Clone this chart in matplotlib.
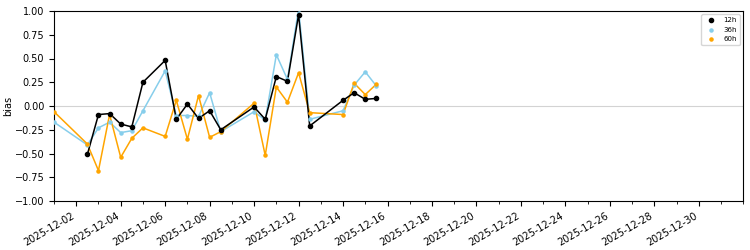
import datetime
import numpy as np
import pandas as pd
import matplotlib
matplotlib.use('Agg')
import matplotlib.pyplot as plt
import matplotlib.dates as mdates

# forecast bias per lead time, 12-hourly runs
t12 = ['2025-12-02 12:00', '2025-12-03 00:00', '2025-12-03 12:00', '2025-12-04 00:00',
       '2025-12-04 12:00', '2025-12-05 00:00', '2025-12-06 00:00', '2025-12-06 12:00',
       '2025-12-07 00:00', '2025-12-07 12:00', '2025-12-08 00:00', '2025-12-08 12:00',
       '2025-12-10 00:00', '2025-12-10 12:00', '2025-12-11 00:00', '2025-12-11 12:00',
       '2025-12-12 00:00', '2025-12-12 12:00', '2025-12-14 00:00', '2025-12-14 12:00',
       '2025-12-15 00:00', '2025-12-15 12:00']
bias12 = [-0.51, -0.09, -0.08, -0.19, -0.22, 0.25, 0.48, -0.14, 0.02, -0.13, -0.05,
          -0.25, -0.01, -0.14, 0.31, 0.26, 0.96, -0.21, 0.06, 0.14, 0.07, 0.08]

t_long = ['2025-12-01 00:00'] + t12
bias36 = [-0.17, -0.41, -0.23, -0.17, -0.28, -0.26, -0.05, 0.37, -0.10, -0.10, -0.11,
          0.14, -0.27, -0.06, -0.15, 0.54, 0.28, 1.02, -0.14, -0.05, 0.22, 0.36, 0.21]
bias60 = [-0.06, -0.40, -0.68, -0.09, -0.54, -0.34, -0.23, -0.32, 0.06, -0.35, 0.11,
          -0.33, -0.27, 0.03, -0.52, 0.20, 0.04, 0.35, -0.07, -0.09, 0.24, 0.12, 0.23]

t12 = pd.to_datetime(t12)
t_long = pd.to_datetime(t_long)

fig, ax = plt.subplots(figsize=(7.5, 2.5), dpi=100)
fig.subplots_adjust(left=0.072, right=0.991, top=0.956, bottom=0.196)

ax.axhline(0, color='lightgray', lw=0.8, zorder=0)

ax.plot(t_long, bias36, c='skyblue', lw=1.1)
ax.scatter(t_long, bias36, c='skyblue', s=5, label='36h', zorder=3)
ax.plot(t_long, bias60, c='orange', lw=1.1)
ax.scatter(t_long, bias60, c='orange', s=5, label='60h', zorder=3)
ax.plot(t12, bias12, c='k', lw=1.1)
ax.scatter(t12, bias12, c='k', s=9, label='12h', zorder=4)

ax.set_ylim(-1, 1)
ax.set_xlim(datetime.datetime(2025, 12, 1), datetime.datetime(2026, 1, 1))
ax.set_ylabel('bias', fontsize=7, labelpad=1)

ax.xaxis.set_major_locator(mdates.DayLocator(bymonthday=range(2, 32, 2)))
ax.xaxis.set_minor_locator(mdates.DayLocator())
ax.xaxis.set_major_formatter(mdates.DateFormatter('%Y-%m-%d'))
ax.tick_params(labelsize=7)
plt.setp(ax.get_xticklabels(), rotation=30, ha='right')

h, l = ax.get_legend_handles_labels()
order = [2, 0, 1]
ax.legend([h[i] for i in order], [l[i] for i in order], loc='upper right', fontsize=5)

fig.savefig('out.png', dpi=100)
